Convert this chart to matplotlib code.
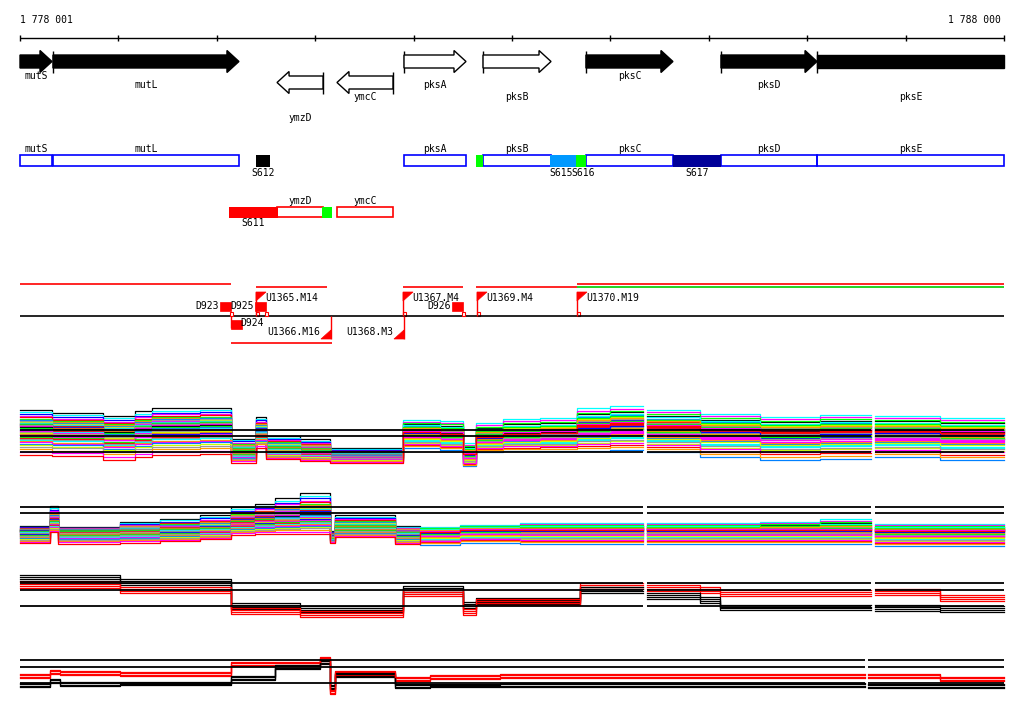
import numpy as np
import matplotlib
matplotlib.use("Agg")
import matplotlib.pyplot as plt
from matplotlib.patches import Polygon, Rectangle

FONT = dict(family="DejaVu Sans Mono", size=7)

# ---------------- data ----------------
REGION = (1778001, 1788000)
TICKS = [1778001, 1779000, 1780000, 1781000, 1782000, 1783000, 1784000,
         1785000, 1786000, 1787000, 1788000]
RULER_LABELS = ["1 778 001", "1 788 000"]

GENE_NAMES = ["mutS", "mutL", "ymzD", "ymcC", "pksA", "pksB", "pksC", "pksD", "pksE"]
GENE_START = [1775400, 1778336, 1780613, 1781222, 1781903, 1782706, 1783752, 1785124, 1786100]
GENE_END = [1778326, 1780226, 1781080, 1781791, 1782533, 1783397, 1784636, 1786100, 1790600]
GENE_STRAND = [1, 1, -1, -1, 1, 1, 1, 1, 1]
GENE_FILLED = [True, True, False, False, False, False, True, True, True]
GENE_LABEL_ROW = [0, 1, 3, 2, 1, 2, 0, 1, 2]

SEG_NAMES = ["S612", "S615", "S616", "S617", "S611", "", ""]
SEG_START = [1780399, 1783387, 1783651, 1784637, 1780125, 1782635, 1781070]
SEG_END = [1780541, 1783651, 1783753, 1785124, 1780623, 1782706, 1781172]
SEG_STRAND = [1, 1, 1, 1, -1, 1, -1]
SEG_COLOR = ["#000000", "#0099ff", "#00ff00", "#000099", "#ff0000", "#00ff00", "#00ff00"]
SEG_LABEL_SHIFT = [0, -2, 2, 0, 0, 0, 0]  # pixels, to keep S615/S616 apart

TU_START = [1778001, 1780399, 1781893, 1782635, 1783661, 1783661, 1780145]
TU_END = [1780145, 1781121, 1782503, 1783661, 1788000, 1788000, 1781172]
TU_ROW = [0, 1, 1, 1, 0, 1, 2]
TU_COLOR = ["#ff0000", "#ff0000", "#ff0000", "#ff0000", "#ff0000", "#00cc00", "#ff0000"]

TSS_NAMES = ["U1365.M14", "U1367.M4", "U1369.M4", "U1370.M19", "U1366.M16", "U1368.M3"]
TSS_POS = [1780399, 1781893, 1782645, 1783661, 1781161, 1781903]
TSS_STRAND = [1, 1, 1, 1, -1, -1]

TERM_NAMES = ["D923", "D925", "D926", "D924"]
TERM_POS = [1780145, 1780501, 1782503, 1780145]
TERM_STRAND = [1, 1, 1, -1]

# expression tracks (log-scale units)
T1_BREAKS = [1778001, 1778326, 1778844, 1779170, 1779342, 1779830, 1780145, 1780399,
             1780501, 1780846, 1781151, 1781893, 1782269, 1782503, 1782635, 1782909,
             1783285, 1783661, 1783997, 1784332, 1784373, 1784911, 1785521, 1786131,
             1786649, 1786690, 1787351, 1788000]
T1_MED = [9.6, 9.2, 8.6, 9.2, 9.8, 10.0, 5.0, 9.0, 5.4, 5.0, 4.0, 8.6, 8.2, 4.2, 7.6,
          8.2, 8.4, 9.8, 10.2, np.nan, 9.6, 9.0, 8.6, 8.8, np.nan, 8.8, 8.4]
T1_UP = [3.4, 3.2, 3.2, 3.6, 3.6, 3.4, 2.3, 2.6, 2.4, 2.2, 1.4, 2.4, 2.6, 2.2, 2.8,
         3.0, 3.0, 3.6, 3.6, 0, 3.4, 3.2, 3.0, 3.2, 0, 3.0, 3.0]
T1_DN = [5.6, 5.4, 5.6, 5.6, 5.8, 5.8, 2.6, 3.6, 2.2, 2.2, 1.6, 3.2, 3.2, 2.4, 3.0,
         3.4, 3.6, 5.0, 5.2, 0, 5.0, 5.4, 5.6, 5.6, 0, 5.2, 5.4]
T1_REF = [9.0, 7.8, 4.6]

T2_BREAKS = [1778001, 1778306, 1778387, 1779017, 1779424, 1779830, 1780145, 1780389,
             1780592, 1780846, 1781151, 1781202, 1781812, 1782066, 1782472, 1783082,
             1784332, 1784373, 1785521, 1786131, 1786649, 1786690, 1788000]
T2_MED = [4.8, 6.8, 4.8, 5.0, 5.2, 5.4, 6.8, 7.2, 7.8, 8.2, 3.8, 5.6, 4.6, 4.6, 5.0,
          5.0, np.nan, 5.0, 5.0, 5.0, np.nan, 4.8]
T2_UP = [1.0, 3.0, 0.8, 1.6, 2.0, 2.6, 2.8, 3.0, 3.6, 4.2, 1.0, 2.4, 1.2, 1.0, 1.0,
         1.4, 0, 1.4, 1.6, 2.2, 0, 1.4]
T2_DN = [2.4, 2.2, 2.6, 2.6, 2.4, 2.2, 2.8, 3.0, 3.6, 4.0, 1.4, 2.0, 2.4, 2.6, 2.6,
         2.8, 0, 2.8, 2.8, 2.8, 0, 3.0]
T2_REF = [9.6, 8.4]
SWITCH = 1781893  # series re-order after this position

OFFSETS_L = [1.0, 0.86, 0.74, 0.64, 0.56, 0.5, 0.44, 0.39, 0.34, 0.3, 0.26, 0.22, 0.18,
             0.15, 0.12, 0.09, 0.06, 0.03, 0.0, -0.03, -0.06, -0.09, -0.12, -0.15, -0.18,
             -0.21, -0.24, -0.27, -0.3, -0.34, -0.38, -0.42, -0.46, -0.5, -0.55, -0.6,
             -0.66, -0.72, -0.8, -0.88, -1.0]
OFFSETS_R = [0.64, 1.0, 0.22, 0.86, 0.3, 0.74, 0.06, 0.5, -0.12, 0.39, 0.15, 0.56, -0.03,
             0.44, -0.21, 0.26, 0.34, -0.3, 0.09, 0.18, -0.42, 0.0, -0.5, 0.12, -0.06,
             -0.66, -0.15, -0.09, -0.27, -0.18, -0.8, -0.24, -0.55, -0.38, -0.34, -1.0,
             -0.46, -0.6, -0.88, -0.72, 0.03]
SERIES_COLORS = ["#000000", "#00ffff", "#0000ff", "#ff00ff", "#ff0000", "#00ff00", "#ff9900",
                 "#0080ff", "#999999", "#ccff00", "#ff00ff", "#00ffff", "#ff0000", "#00ff00",
                 "#0000ff", "#999999", "#ff9900", "#ff00ff", "#000000", "#00ff00", "#0080ff",
                 "#ff0000", "#00ffff", "#ff00ff", "#999999", "#ccff00", "#ff9900", "#0000ff",
                 "#ff00ff", "#00ff00", "#ff0000", "#999999", "#00ffff", "#ff9900", "#ff00ff",
                 "#0080ff", "#ccff00", "#999999", "#ff9900", "#ff00ff", "#ff0000"]

T3_BREAKS = [1778001, 1779017, 1780145, 1780846, 1781893, 1782503, 1782635, 1783691,
             1784332, 1784373, 1784911, 1785114, 1786649, 1786690, 1787351, 1788000]
T3_BLACK = [11.4, 10.6, 5.8, 5.2, 9.2, 6.0, 6.8, 9.0, np.nan, 7.8, 7.0, 5.5, np.nan, 5.4, 5.2]
T3_RED = [10.0, 9.0, 4.8, 4.2, 8.4, 4.6, 6.6, 9.8, np.nan, 9.4, 9.0, 8.4, np.nan, 8.6, 7.4]
T3_REF = [10.4, 9.0, 5.8]

T4_BREAKS = [1778001, 1778306, 1778407, 1779017, 1780145, 1780592, 1781050, 1781151,
             1781202, 1781812, 1782167, 1782879, 1786588, 1786619, 1787351, 1788000]
T4_BLACK = [3.0, 3.8, 3.2, 3.3, 4.4, 6.6, 7.6, 2.6, 5.0, 2.8, 2.9, 3.0, np.nan, 2.8, 2.8]
T4_RED = [4.8, 5.6, 5.4, 5.2, 7.2, 7.2, 8.2, 1.6, 5.4, 4.2, 4.6, 4.8, np.nan, 4.8, 4.2]
T4_REF = [8.0, 6.6, 3.4]

SMALL_OFFSETS = [-0.9, -0.3, 0.3, 0.9]

# ---------------- layout ----------------
W, H = 1024, 714
PX_PER_BP = 984 / (REGION[1] - REGION[0])
XLIM = (REGION[0] - 20 / PX_PER_BP, REGION[0] + (W - 20) / PX_PER_BP)
BP = 1 / PX_PER_BP  # bp per pixel
LW = 0.9

fig = plt.figure(figsize=(W / 100, H / 100), dpi=100)
ax = fig.add_axes([0, 0, 1, 1])
ax.set_xlim(*XLIM)
ax.set_ylim(H, 0)
ax.axis("off")

# ruler
ax.hlines(38, REGION[0], REGION[1], color="black", lw=1)
ax.vlines(TICKS, 35, 41, color="black", lw=1)
ax.text(REGION[0], 20, RULER_LABELS[0], ha="left", va="center", **FONT)
ax.text(REGION[1] - 3 * BP, 20, RULER_LABELS[1], ha="right", va="center", **FONT)

# gene arrows
LABEL_Y = [76, 85, 97, 118]
HEAD = 12 * BP
for name, s, e, st, filled, row in zip(GENE_NAMES, GENE_START, GENE_END, GENE_STRAND,
                                       GENE_FILLED, GENE_LABEL_ROW):
    cs, ce = max(s, REGION[0]), min(e, REGION[1])
    yc = 61.5 if st > 0 else 82.5
    sh, hh = 6.5, 11
    if st > 0:
        if e <= REGION[1]:
            pts = [(cs, yc - sh), (ce - HEAD, yc - sh), (ce - HEAD, yc - hh), (ce, yc),
                   (ce - HEAD, yc + hh), (ce - HEAD, yc + sh), (cs, yc + sh)]
        else:
            pts = [(cs, yc - sh), (ce, yc - sh), (ce, yc + sh), (cs, yc + sh)]
        if s >= REGION[0]:
            ax.vlines(cs, yc - hh, yc + hh, color="black", lw=1)
    else:
        pts = [(ce, yc - sh), (cs + HEAD, yc - sh), (cs + HEAD, yc - hh), (cs, yc),
               (cs + HEAD, yc + hh), (cs + HEAD, yc + sh), (ce, yc + sh)]
        ax.vlines(ce, yc - hh, yc + hh, color="black", lw=1)
    ax.add_patch(Polygon(pts, closed=True, facecolor="black" if filled else "white",
                         edgecolor="black", lw=1, zorder=3))
    ax.text((cs + ce) / 2, LABEL_Y[row], name, ha="center", va="center", **FONT)

# gene boxes
BOX_Y = {1: (155, 166, 149), -1: (207, 217, 201)}
for name, s, e, st in zip(GENE_NAMES, GENE_START, GENE_END, GENE_STRAND):
    cs, ce = max(s, REGION[0]), min(e, REGION[1])
    y0, y1, ly = BOX_Y[st]
    ec = "#0000ff" if st > 0 else "#ff0000"
    ax.add_patch(Rectangle((cs, y0), ce - cs, y1 - y0, facecolor="none", edgecolor=ec,
                           lw=1.2, zorder=3))
    ax.text((cs + ce) / 2, ly, name, ha="center", va="center", **FONT)
for s, e, st, c, nm, sh in zip(SEG_START, SEG_END, SEG_STRAND, SEG_COLOR, SEG_NAMES,
                               SEG_LABEL_SHIFT):
    y0, y1, _ = BOX_Y[st]
    ax.add_patch(Rectangle((s, y0 - 0.5), e - s, y1 - y0 + 1, facecolor=c,
                           edgecolor="none", zorder=4))
    if nm:
        ax.text((s + e) / 2 + sh * BP, y1 + 6.5, nm, ha="center", va="center",
                zorder=5, **FONT)

# transcription units
BASE = 316
TU_Y = [284, 287, 343]
ax.hlines(BASE, REGION[0], REGION[1], color="black", lw=1.2)
for s, e, r, c in zip(TU_START, TU_END, TU_ROW, TU_COLOR):
    ax.hlines(TU_Y[r], s, e, color=c, lw=1.2)

FL = 10 * BP
for nm, p, st in zip(TSS_NAMES, TSS_POS, TSS_STRAND):
    if st > 0:
        ax.vlines(p, 292, BASE, color="#ff0000", lw=1)
        ax.add_patch(Polygon([(p, 292), (p + FL, 292), (p, 301)], closed=True,
                             facecolor="#ff0000", edgecolor="#ff0000", lw=0.5))
        ax.add_patch(Rectangle((p, BASE - 4), 3 * BP, 4, facecolor="white",
                               edgecolor="#ff0000", lw=0.8))
        ax.text(p + 9 * BP, 298, nm, ha="left", va="center", **FONT)
    else:
        ax.vlines(p, BASE, 339, color="#ff0000", lw=1)
        ax.add_patch(Polygon([(p, 339), (p - FL, 339), (p, 330)], closed=True,
                             facecolor="#ff0000", edgecolor="#ff0000", lw=0.5))
        ax.text(p - 11 * BP, 332, nm, ha="right", va="center", **FONT)

TB = 11 * BP
for nm, p, st in zip(TERM_NAMES, TERM_POS, TERM_STRAND):
    if st > 0:
        ax.add_patch(Rectangle((p - TB, 302), TB, 8.5, facecolor="#ff0000",
                               edgecolor="#ff0000", lw=0.5, zorder=4))
        ax.add_patch(Rectangle((p - 1 * BP, BASE - 4), 3 * BP, 4, facecolor="white",
                               edgecolor="#ff0000", lw=0.8, zorder=4))
        ax.text(p - TB - 1 * BP, 306, nm, ha="right", va="center", zorder=5, **FONT)
    else:
        ax.vlines(p, BASE, 328, color="#ff0000", lw=1)
        ax.add_patch(Rectangle((p, 320), TB, 8.5, facecolor="#ff0000",
                               edgecolor="#ff0000", lw=0.5, zorder=4))
        ax.text(p + TB - 2 * BP, 323, nm, ha="left", va="center", zorder=5, **FONT)


# ---------------- expression tracks ----------------
def track_axes(top_px, bottom_px, ymax):
    a = fig.add_axes([0, 1 - bottom_px / H, 1, (bottom_px - top_px) / H])
    a.set_xlim(*XLIM)
    a.set_ylim(0, ymax)
    a.axis("off")
    return a


def stepline(a, breaks, levels, **kw):
    y = list(levels) + [levels[-1]]
    a.step(breaks, y, where="post", **kw)


def refs(a, levels, gaps):
    edges = [REGION[0]] + [g for pair in gaps for g in pair] + [REGION[1]]
    for lv in levels:
        for i in range(0, len(edges), 2):
            a.hlines(lv, edges[i], edges[i + 1], color="black", lw=1.3, zorder=10)


GAPS_A = [(1784332, 1784373), (1786649, 1786690)]
GAPS_B = [(1786588, 1786619)]


def many(a, breaks, med, up, dn):
    med = np.array(med, float)
    up = np.array(up, float)
    dn = np.array(dn, float)
    starts = np.array(breaks[:-1], float)
    for oL, oR, col in zip(OFFSETS_L, OFFSETS_R, SERIES_COLORS):
        off = np.where(starts < SWITCH, oL, oR)
        vals = med + np.where(off > 0, off * up, off * dn)
        stepline(a, breaks, vals, color=col, lw=LW)


a1 = track_axes(395, 475, 16)
many(a1, T1_BREAKS, T1_MED, T1_UP, T1_DN)
refs(a1, T1_REF, GAPS_A)

a2 = track_axes(485, 555, 14)
many(a2, T2_BREAKS, T2_MED, T2_UP, T2_DN)
refs(a2, T2_REF, GAPS_A)

a3 = track_axes(565, 635, 14)
for off in SMALL_OFFSETS:
    stepline(a3, T3_BREAKS, np.array(T3_BLACK) + 0.6 * off, color="black", lw=LW)
    stepline(a3, T3_BREAKS, np.array(T3_RED) + 0.6 * off, color="#ff0000", lw=LW)
refs(a3, T3_REF, GAPS_A)

a4 = track_axes(650, 700, 10)
for off in SMALL_OFFSETS:
    stepline(a4, T4_BREAKS, np.array(T4_BLACK) + 0.4 * off, color="black", lw=LW)
    stepline(a4, T4_BREAKS, np.array(T4_RED) + 0.4 * off, color="#ff0000", lw=LW)
refs(a4, T4_REF, GAPS_B)

fig.savefig("out.png", dpi=100, facecolor="white")
